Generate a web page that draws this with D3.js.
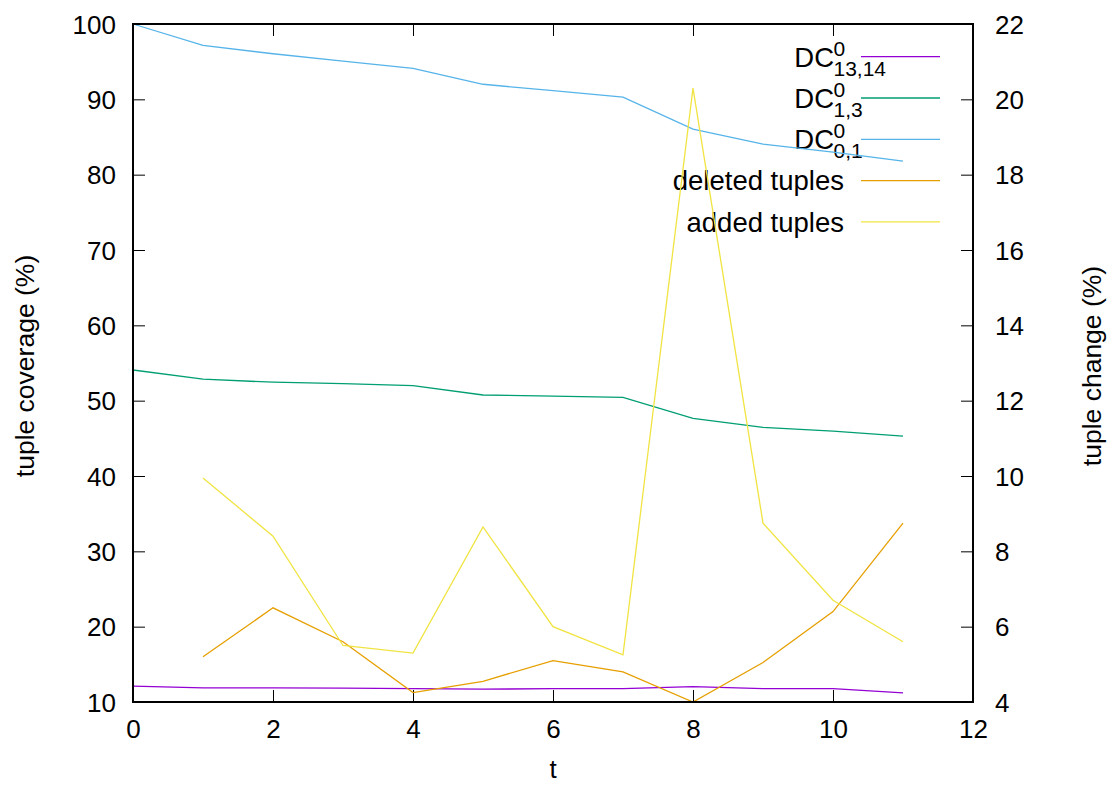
<!DOCTYPE html>
<html>
<head>
<meta charset="utf-8">
<script src="https://cdn.jsdelivr.net/npm/d3@7"></script>
<style>
  html, body { margin: 0; padding: 0; background: #fff; }
  svg text { font-family: "Liberation Sans", Arial, sans-serif; fill: #000; }
</style>
</head>
<body>
<svg id="svgarea" width="1113" height="787"></svg>
<script>
// values
const tSteps      = [0, 1, 2, 3, 4, 5, 6, 7, 8, 9, 10, 11];
const dc1314      = [12.1, 11.87, 11.88, 11.84, 11.77, 11.7, 11.77, 11.77, 12.03, 11.77, 11.77, 11.2];
const dc13        = [54.07, 52.85, 52.45, 52.25, 52.0, 50.75, 50.6, 50.45, 47.65, 46.45, 45.95, 45.3];
const dc01        = [100, 97.15, 96.05, 95.08, 94.1, 92.0, 91.15, 90.3, 86.05, 84.05, 83.0, 81.8];
const changeSteps = [1, 2, 3, 4, 5, 6, 7, 8, 9, 10, 11];
const deleted     = [5.2, 6.5, 5.6, 4.25, 4.55, 5.1, 4.8, 4.0, 5.05, 6.4, 8.75];
const added       = [9.95, 8.4, 5.5, 5.3, 8.65, 6.0, 5.25, 20.3, 8.75, 6.7, 5.6];

const xTicks  = [0, 2, 4, 6, 8, 10, 12];
const yTicks  = [10, 20, 30, 40, 50, 60, 70, 80, 90, 100];
const y2Ticks = [4, 6, 8, 10, 12, 14, 16, 18, 20, 22];

const colors = ['#9400d3', '#009e73', '#56b4e9', '#e69f00', '#f0e442'];

// plot box
const boxLeft = 133, boxRight = 973, boxTop = 24, boxBottom = 702;
const fontSize = 26;
const keySize = 27.5;

const svg = d3.select('#svgarea');

const x  = d3.scaleLinear().domain([0, 12]).range([boxLeft, boxRight]);
const y  = d3.scaleLinear().domain([10, 100]).range([boxBottom, boxTop]);
const y2 = d3.scaleLinear().domain([4, 22]).range([boxBottom, boxTop]);

// axes, ticks pointing inwards
function styleAxis(g){
	g.select('.domain').remove();
	g.selectAll('.tick line').attr('stroke', '#000').attr('stroke-width', 1);
	g.selectAll('.tick text').attr('font-size', fontSize).attr('fill', '#000')
		.style('font-family', '"Liberation Sans", Arial, sans-serif');
}

svg.append('g').attr('transform', 'translate(' + boxLeft + ',0)')
	.call(d3.axisLeft(y).tickValues(yTicks).tickSize(-12).tickPadding(17))
	.call(styleAxis)
	.selectAll('.tick text').attr('dy', '0.35em');

svg.append('g').attr('transform', 'translate(' + boxRight + ',0)')
	.call(d3.axisRight(y2).tickValues(y2Ticks).tickSize(-12).tickPadding(22))
	.call(styleAxis)
	.selectAll('.tick text').attr('dy', '0.35em');

svg.append('g').attr('transform', 'translate(0,' + boxBottom + ')')
	.call(d3.axisBottom(x).tickValues(xTicks).tickSize(-12).tickPadding(18))
	.call(styleAxis);

svg.append('g').attr('transform', 'translate(0,' + boxTop + ')')
	.call(d3.axisTop(x).tickValues(xTicks).tickSize(-12).tickFormat(''))
	.call(styleAxis);

// axis titles
svg.append('text').attr('x', (boxLeft + boxRight) / 2).attr('y', 778)
	.attr('text-anchor', 'middle').attr('font-size', fontSize).text('t');
svg.append('text').attr('transform', 'translate(34,366) rotate(-90)')
	.attr('text-anchor', 'middle').attr('font-size', 26.5).text('tuple coverage (%)');
svg.append('text').attr('transform', 'translate(1101,366) rotate(-90)')
	.attr('text-anchor', 'middle').attr('font-size', 26.5).text('tuple change (%)');

// legend (key), drawn before the lines like gnuplot does
const keyLabels = [
	{ base: 'DC', sup: '0', sub: '13,14' },
	{ base: 'DC', sup: '0', sub: '1,3' },
	{ base: 'DC', sup: '0', sub: '0,1' },
	{ base: 'deleted tuples' },
	{ base: 'added tuples' }
];
const key = svg.append('g');
keyLabels.forEach(function(k, i){
	var ly = 56.7 + i * 41.3;
	key.append('line').attr('x1', 861).attr('x2', 940).attr('y1', ly).attr('y2', ly)
		.attr('stroke', colors[i]).attr('stroke-width', 1.3);
	if(k.sup){
		// "DC" with stacked super/subscript, one text element
		var txt = key.append('text').attr('y', ly + 10).attr('font-size', keySize);
		var baseSpan = txt.append('tspan').text(k.base);
		var w = baseSpan.node().getComputedTextLength();
		var x0 = 834 - w;
		txt.attr('x', x0);
		txt.append('tspan').attr('x', 833.5).attr('y', ly - 1).attr('font-size', 21).text(k.sup);
		txt.append('tspan').attr('x', 833.5).attr('y', ly + 19).attr('font-size', 21).text(k.sub);
	} else {
		key.append('text').attr('x', 844).attr('y', ly + 9.8).attr('text-anchor', 'end')
			.attr('font-size', keySize).text(k.base);
	}
});

// series
const lineLeft  = d3.line().x(function(d){ return x(d[0]); }).y(function(d){ return y(d[1]); });
const lineRight = d3.line().x(function(d){ return x(d[0]); }).y(function(d){ return y2(d[1]); });

const series = [
	{ path: lineLeft,  data: d3.zip(tSteps, dc1314) },
	{ path: lineLeft,  data: d3.zip(tSteps, dc13) },
	{ path: lineLeft,  data: d3.zip(tSteps, dc01) },
	{ path: lineRight, data: d3.zip(changeSteps, deleted) },
	{ path: lineRight, data: d3.zip(changeSteps, added) }
];
series.forEach(function(s, i){
	svg.append('path').datum(s.data)
		.attr('d', s.path)
		.attr('fill', 'none')
		.attr('stroke', colors[i])
		.attr('stroke-width', 1.3)
		.attr('stroke-linejoin', 'miter');
});

// frame
svg.append('rect').attr('x', boxLeft).attr('y', boxTop)
	.attr('width', boxRight - boxLeft).attr('height', boxBottom - boxTop)
	.attr('fill', 'none').attr('stroke', '#000').attr('stroke-width', 2);
</script>
</body>
</html>
